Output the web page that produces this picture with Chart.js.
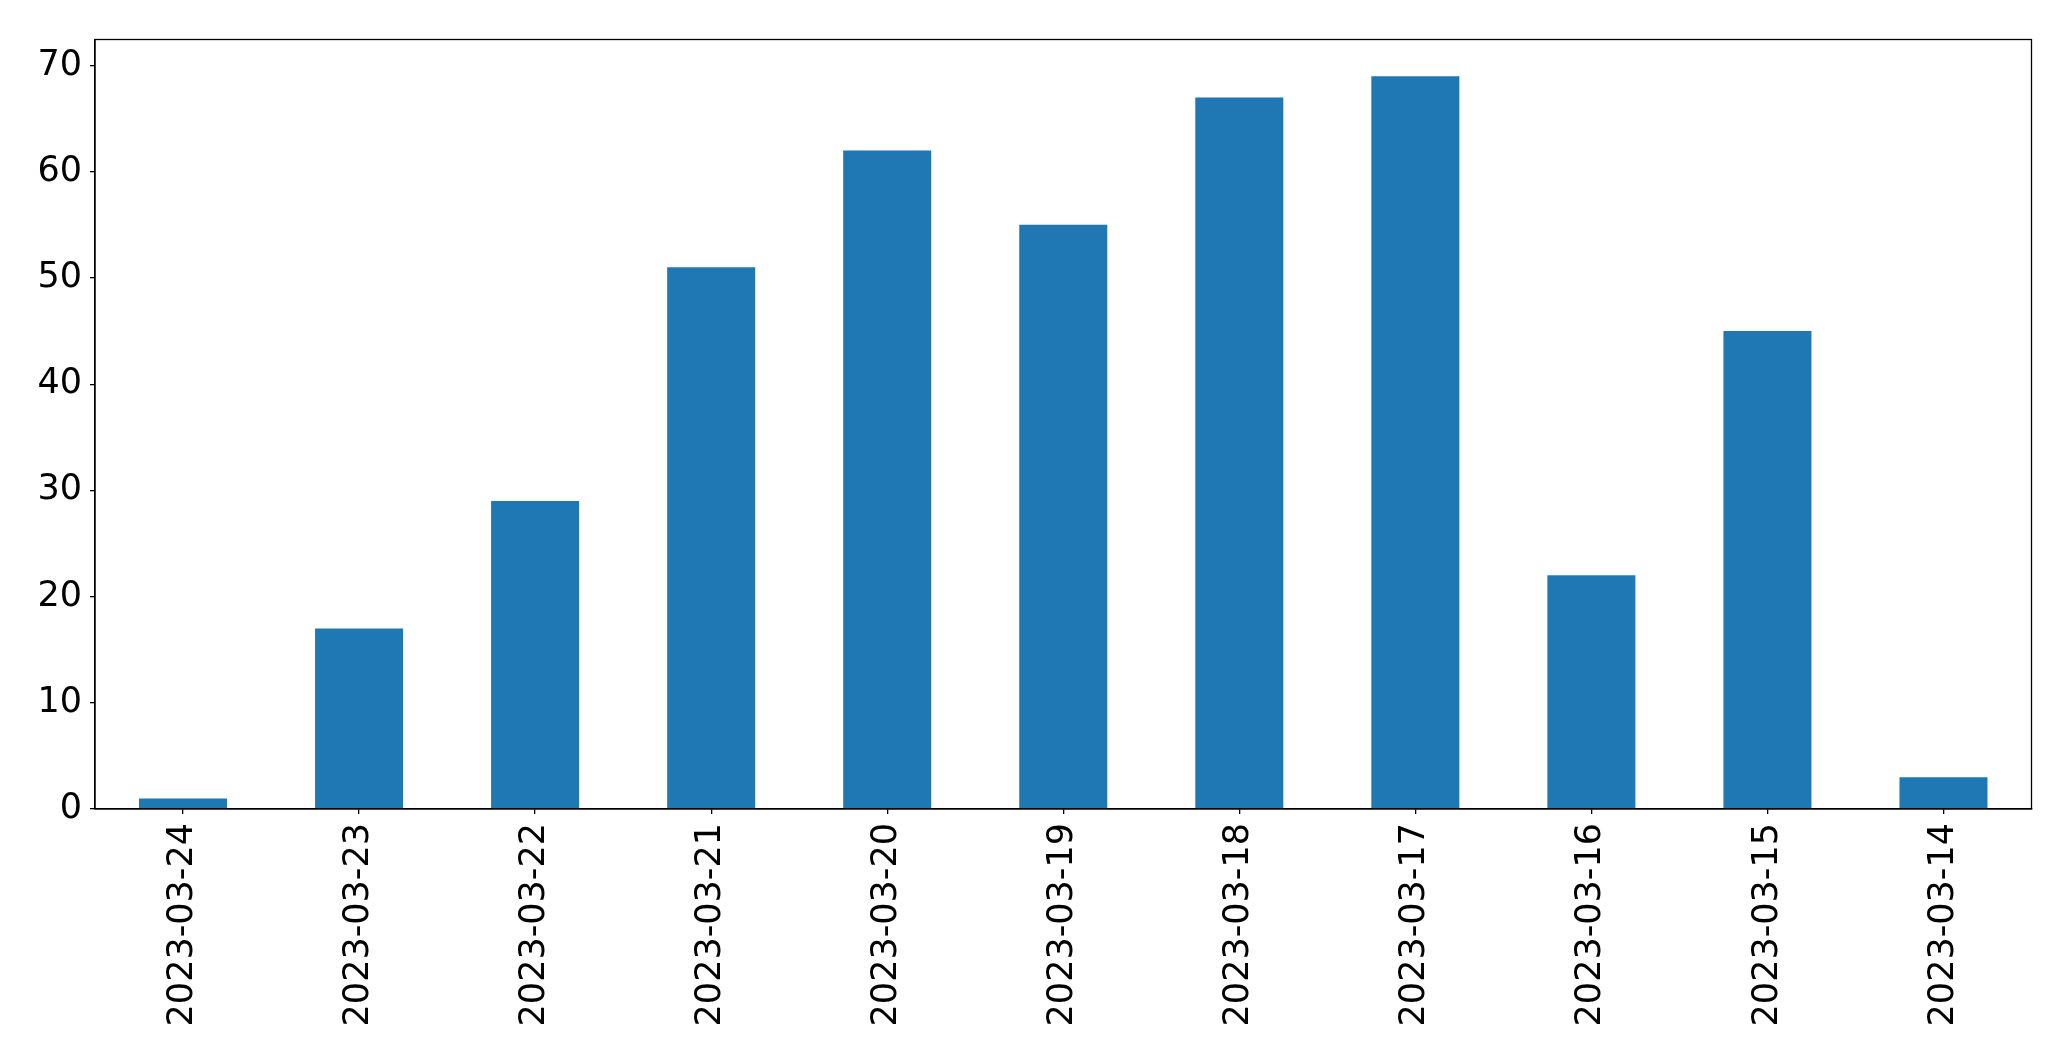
<!DOCTYPE html>
<html>
<head>
<meta charset="utf-8">
<script src="https://cdn.jsdelivr.net/npm/chart.js@4.4.0/dist/chart.umd.min.js"></script>
<style>
  html, body { margin: 0; padding: 0; background: #ffffff; }
  #wrap { width: 2071px; height: 1061px; position: relative; }
</style>
</head>
<body>
<div id="wrap"><canvas id="c" width="2071" height="1061"></canvas></div>
<script>
const categories = ["2023-03-24", "2023-03-23", "2023-03-22", "2023-03-21", "2023-03-20", "2023-03-19", "2023-03-18", "2023-03-17", "2023-03-16", "2023-03-15", "2023-03-14"];
const counts = [1, 17, 29, 51, 62, 55, 67, 69, 22, 45, 3];
const yTicks = [0, 10, 20, 30, 40, 50, 60, 70];

const frame = {
  id: 'frame',
  afterDraw(chart) {
    const a = chart.chartArea, ctx = chart.ctx;
    ctx.save();
    ctx.strokeStyle = '#000';
    ctx.lineWidth = 1.3;
    ctx.strokeRect(a.left, a.top, a.right - a.left, a.bottom - a.top);
    ctx.restore();
  }
};

new Chart(document.getElementById('c'), {
  type: 'bar',
  data: {
    labels: categories,
    datasets: [{
      data: counts,
      backgroundColor: '#1f77b4',
      borderWidth: 0,
      barPercentage: 0.5,
      categoryPercentage: 1.0
    }]
  },
  options: {
    responsive: false,
    animation: false,
    layout: { padding: { left: 0, top: 39.5, right: 39.5, bottom: 0 } },
    plugins: { legend: { display: false }, tooltip: { enabled: false } },
    scales: {
      x: {
        afterFit(s) { s.height = 252; },
        grid: { display: true, offset: false, drawOnChartArea: false, drawTicks: true, tickLength: 5, color: '#000', lineWidth: 1.3 },
        border: { display: true, color: '#000', width: 1.3 },
        ticks: {
          color: '#000', autoSkip: false, maxRotation: 90, minRotation: 90, padding: 9,
          font: { family: 'DejaVu Sans', size: 35 }
        }
      },
      y: {
        min: 0,
        max: 72.45,
        afterFit(s) { s.width = 95; },
        afterBuildTicks(s) { s.ticks = yTicks.map(v => ({ value: v })); },
        grid: { display: true, drawOnChartArea: false, drawTicks: true, tickLength: 5, color: '#000', lineWidth: 1.3 },
        border: { display: true, color: '#000', width: 1.3 },
        ticks: {
          color: '#000', padding: 8,
          font: { family: 'DejaVu Sans', size: 35 }
        }
      }
    }
  },
  plugins: [frame]
});
</script>
</body>
</html>
